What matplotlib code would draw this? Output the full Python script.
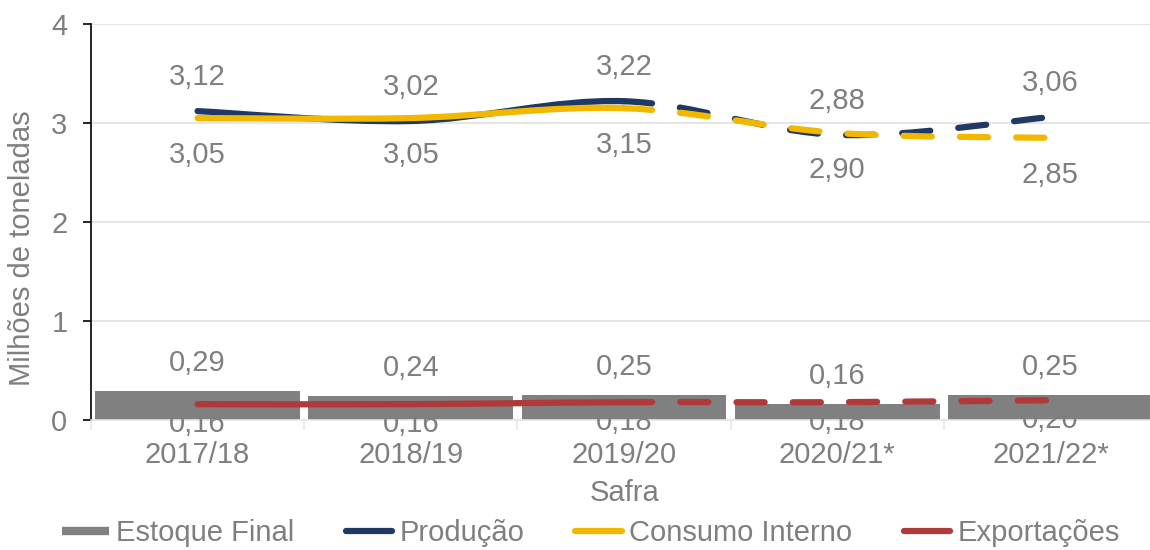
import numpy as np
import matplotlib
matplotlib.use("Agg")
import matplotlib.pyplot as plt
from matplotlib.path import Path
from matplotlib.patches import PathPatch
from matplotlib.lines import Line2D

plt.rcParams["font.family"] = ["Liberation Sans", "DejaVu Sans"]

# ---------------------------------------------------------------------------
# Data (milhões de toneladas)
# ---------------------------------------------------------------------------
safras = ["2017/18", "2018/19", "2019/20", "2020/21*", "2021/22*"]
estoque = [0.29, 0.24, 0.25, 0.16, 0.25]
producao = [3.12, 3.02, 3.22, 2.88, 3.06]
consumo = [3.05, 3.05, 3.15, 2.90, 2.85]
exportacoes = [0.16, 0.16, 0.18, 0.18, 0.20]

GRAY = "#7f7f7f"
C_PROD = "#1f3864"
C_CONS = "#f2b800"
C_EXP = "#b03a3a"
C_BAR = "#808080"
FS = 21


def smooth_path(xs, ys, i0, i1):
    """Excel-like smoothed line (Catmull-Rom as cubic Bezier) from i0 to i1."""
    pts = np.column_stack([xs, ys]).astype(float)
    n = len(pts)
    verts = [pts[i0]]
    codes = [Path.MOVETO]
    for i in range(i0, i1):
        p0 = pts[max(i - 1, 0)]
        p1 = pts[i]
        p2 = pts[i + 1]
        p3 = pts[min(i + 2, n - 1)]
        c1 = p1 + (p2 - p0) / 6.0
        c2 = p2 - (p3 - p1) / 6.0
        verts += [c1, c2, p2]
        codes += [Path.CURVE4] * 3
    return Path(verts, codes)


def draw_series(ax, ys, color, z):
    xs = np.arange(len(ys))
    solid = PathPatch(smooth_path(xs, ys, 0, 2), fill=False, edgecolor=color,
                      lw=4.5, capstyle="round", joinstyle="round", zorder=z)
    dashed = PathPatch(smooth_path(xs, ys, 2, len(ys) - 1), fill=False,
                       edgecolor=color, lw=4.5, linestyle=(0, (4.5, 4.5)),
                       capstyle="round", joinstyle="round", zorder=z)
    ax.add_patch(solid)
    ax.add_patch(dashed)


fig = plt.figure(figsize=(11.5, 5.5), dpi=100)
ax = fig.add_axes([91 / 1150, 130 / 550, 1066 / 1150, 396 / 550])

x = np.arange(len(safras))

# -- bars ---------------------------------------------------------------------
ax.bar(x, estoque, width=0.96, color=C_BAR, zorder=2)

# -- lines --------------------------------------------------------------------
draw_series(ax, producao, C_PROD, 3)
draw_series(ax, consumo, C_CONS, 4)
draw_series(ax, exportacoes, C_EXP, 5)


def fmt(v):
    return f"{v:.2f}".replace(".", ",")


lab_kw = dict(textcoords="offset pixels", ha="center", va="center",
              fontsize=FS, color=GRAY, zorder=6)
for xi, v in zip(x, producao):
    ax.annotate(fmt(v), (xi, v), xytext=(0, 34), **lab_kw)
for xi, v in zip(x, consumo):
    ax.annotate(fmt(v), (xi, v), xytext=(0, -37), **lab_kw)
for xi, v in zip(x, estoque):
    ax.annotate(fmt(v), (xi, v), xytext=(0, 28), **lab_kw)
for xi, v in zip(x, exportacoes):
    ax.annotate(fmt(v), (xi, v), xytext=(0, -20), **lab_kw)

# -- axes ---------------------------------------------------------------------
ax.set_xlim(-0.5, 4.5)
ax.set_ylim(0, 4)
ax.set_yticks([0, 1, 2, 3, 4])
ax.set_xticks(x)
ax.set_xticklabels(safras)
ax.set_xticks(np.arange(-0.5, 5.0, 1.0), minor=True)
ax.tick_params(axis="y", labelsize=FS, labelcolor=GRAY, length=6, width=1.2,
               color="black", pad=11)
ax.tick_params(axis="x", which="major", labelsize=FS, labelcolor=GRAY,
               length=0, pad=15)
ax.tick_params(axis="x", which="minor", length=7, width=1.2, color="#e6e6e6")

ax.grid(axis="y", color="#e0e0e0", lw=1.2, zorder=0)
ax.set_axisbelow(True)
for s in ["top", "right"]:
    ax.spines[s].set_visible(False)
ax.spines["left"].set_color("black")
ax.spines["left"].set_linewidth(1.2)
ax.spines["bottom"].set_color("#e6e6e6")
ax.spines["bottom"].set_linewidth(1.2)

ax.set_xlabel("Safra", fontsize=FS, color=GRAY)
ax.set_ylabel("Milhões de toneladas", fontsize=FS, color=GRAY)
ax.xaxis.set_label_coords((625 - 91) / 1066, -(479 - 420) / 396)
ax.yaxis.set_label_coords(-(91 - 36) / 1066, (420 - 248) / 396)

# -- legend -------------------------------------------------------------------
handles = [
    Line2D([], [], color=C_BAR, lw=6, solid_capstyle="butt"),
    Line2D([], [], color=C_PROD, lw=4.5, solid_capstyle="round"),
    Line2D([], [], color=C_CONS, lw=4.5, solid_capstyle="round"),
    Line2D([], [], color=C_EXP, lw=4.5, solid_capstyle="round"),
]
labels = ["Estoque Final", "Produção", "Consumo Interno", "Exportações"]
leg = fig.legend(handles, labels, loc="center", ncol=4, frameon=False,
                 bbox_to_anchor=(0.514, 1 - 533 / 550), fontsize=FS,
                 handlelength=1.6, handletextpad=0.25, columnspacing=1.75,
                 borderpad=0)
for t in leg.get_texts():
    t.set_color(GRAY)

fig.savefig("out.png", dpi=100)
